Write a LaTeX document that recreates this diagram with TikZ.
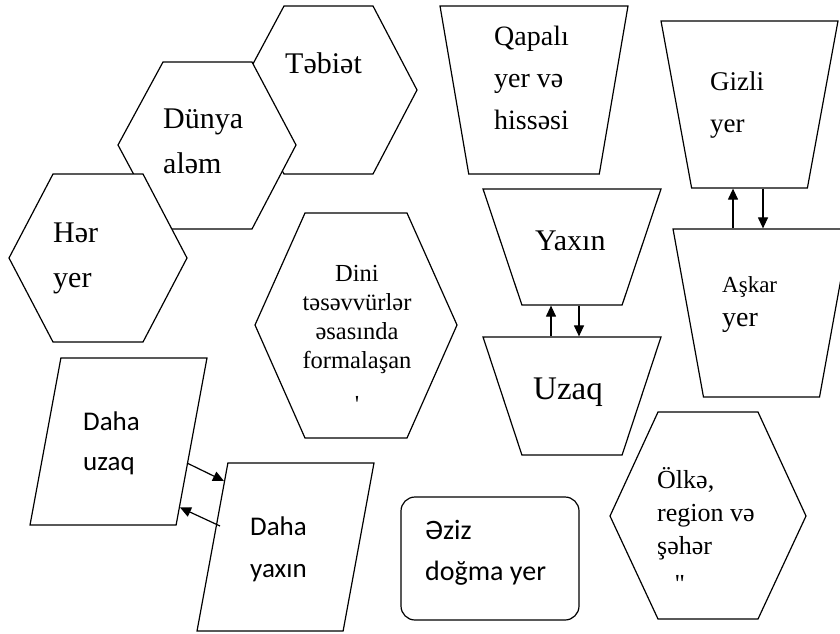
\documentclass[tikz,border=0pt]{standalone}
\usepackage{fontspec}
\setmainfont{Liberation Serif}
\newfontfamily\calibri{Carlito}
\usetikzlibrary{shapes.geometric}
\usetikzlibrary{arrows.meta}

\begin{document}
\begin{tikzpicture}[x = 1pt, y = -1pt]
	\tikzstyle{hexStyle} = [draw, fill = white, line width = 1.2pt]
	\tikzstyle{trapStyle} = [draw, fill = white, trapezium, trapezium stretches = true, shape border rotate = 180, inner sep = 2pt, line width = 1.2pt]
	\tikzstyle{paraStyle} = [draw, fill = white, trapezium, trapezium left angle = 75, trapezium right angle = 105, trapezium stretches = true, inner sep = 2pt, line width = 1.2pt]
	\tikzstyle{roundStyle} = [draw, rectangle, rounded corners = 14pt, inner sep = 0pt, line width = 1.2pt]
	\tikzstyle{textStyle} = [anchor = base west, align = left, inner sep = 0pt]
	\tikzstyle{arrowStyle} = [-{Triangle[length = 11pt, width = 10pt]}, line width = 1.2pt]
	\clip (0, 0) rectangle (840, 633);
	% hexagons
	\draw[hexStyle] (239, 90) -- (284, 6) -- (373, 6) -- (417, 90) -- (373, 174) -- (284, 174) -- cycle;
	\draw[hexStyle] (118, 145) -- (163, 62) -- (252, 62) -- (296, 145) -- (252, 229) -- (163, 229) -- cycle;
	\draw[hexStyle] (9, 258) -- (53, 174) -- (143, 174) -- (187, 258) -- (143, 342) -- (53, 342) -- cycle;
	\draw[hexStyle] (255, 325) -- (305, 213) -- (407, 213) -- (457, 325) -- (407, 438) -- (305, 438) -- cycle;
	\draw[hexStyle] (610, 516) -- (658, 412) -- (758, 412) -- (806, 516) -- (758, 619) -- (658, 619) -- cycle;
	% trapezia
	\node[trapStyle, trapezium angle = 77.6, minimum width = 188pt, minimum height = 168pt] (qapali) at (534, 90) {};
	\node[trapStyle, trapezium angle = 75.2, minimum width = 177pt, minimum height = 167pt] (gizli) at (749.5, 104.5) {};
	\node[trapStyle, trapezium angle = 68.8, minimum width = 178pt, minimum height = 116pt] (yaxin) at (572, 247) {};
	\node[trapStyle, trapezium angle = 68.8, minimum width = 178pt, minimum height = 118pt] (uzaq) at (572, 396) {};
	\node[trapStyle, trapezium angle = 75.3, minimum width = 177pt, minimum height = 168pt] (askar) at (761.5, 313) {};
	% parallelograms and box
	\node[paraStyle, minimum width = 177pt, minimum height = 167pt] (dahauzaq) at (118.5, 441.5) {};
	\node[paraStyle, minimum width = 177pt, minimum height = 168pt] (dahayaxin) at (285.5, 547) {};
	\node[roundStyle, minimum width = 178pt, minimum height = 123pt] (aziz) at (490, 558.5) {};
	% texts (base = last line)
	\node[textStyle, font = \fontsize{30}{45}\selectfont] (tabietT) at (285, 73) {Təbiət};
	\node[textStyle, font = \fontsize{30}{45}\selectfont] (dunyaT) at (163, 173) {Dünya\\aləm};
	\node[textStyle, font = \fontsize{30}{45}\selectfont] (herT) at (53, 287) {Hər\\yer};
	\node[textStyle, anchor = base, align = center, font = \fontsize{24.5}{29}\selectfont] (diniT) at (357, 412) {Dini\\təsəvvürlər\\əsasında\\formalaşan\\[15pt]\textquotesingle};
	\node[textStyle, font = \fontsize{26}{33}\selectfont] (olkeT) at (657, 592) {Ölkə,\\region və\\şəhər\\[5pt]\hspace*{18pt}\textquotesingle\textquotesingle};
	\node[textStyle, font = \fontsize{28}{42}\selectfont] (qapaliT) at (494, 129) {Qapalı\\yer və\\hissəsi};
	\node[textStyle, font = \fontsize{27}{42}\selectfont] (gizliT) at (710, 132) {Gizli\\yer};
	\node[textStyle, font = \fontsize{30}{42}\selectfont] (yaxinT) at (535, 250) {Yaxın};
	\node[textStyle, font = \fontsize{33}{42}\selectfont] (uzaqT) at (533, 399) {Uzaq};
	\node[textStyle, font = \fontsize{28}{34}\selectfont] (askarT) at (722, 326) {{\fontsize{23}{34}\selectfont Aşkar}\\yer};
	\node[textStyle, font = \calibri\fontsize{27}{40}\selectfont] (dahauzaqT) at (83, 470) {Daha\\uzaq};
	\node[textStyle, font = \calibri\fontsize{27}{42}\selectfont] (dahayaxinT) at (250, 577) {Daha\\yaxın};
	\node[textStyle, font = \calibri\fontsize{28}{41}\selectfont] (azizT) at (425, 580) {Əziz\\doğma yer};
	% arrows
	\coordinate (a1) at (187, 463);
	\coordinate (a2) at (220, 526);
	\draw[arrowStyle] (a1) -- (dahayaxin.133);
	\draw[arrowStyle] (a2) -- (dahauzaq.313);
	\draw[arrowStyle] (uzaq.north -| 551, 0) -- (yaxin.south -| 551, 0);
	\draw[arrowStyle] (yaxin.south -| 579, 0) -- (uzaq.north -| 579, 0);
	\draw[arrowStyle] (askar.north -| 733, 0) -- (gizli.south -| 733, 0);
	\draw[arrowStyle] (gizli.south -| 763, 0) -- (askar.north -| 763, 0);
\end{tikzpicture}
\end{document}
